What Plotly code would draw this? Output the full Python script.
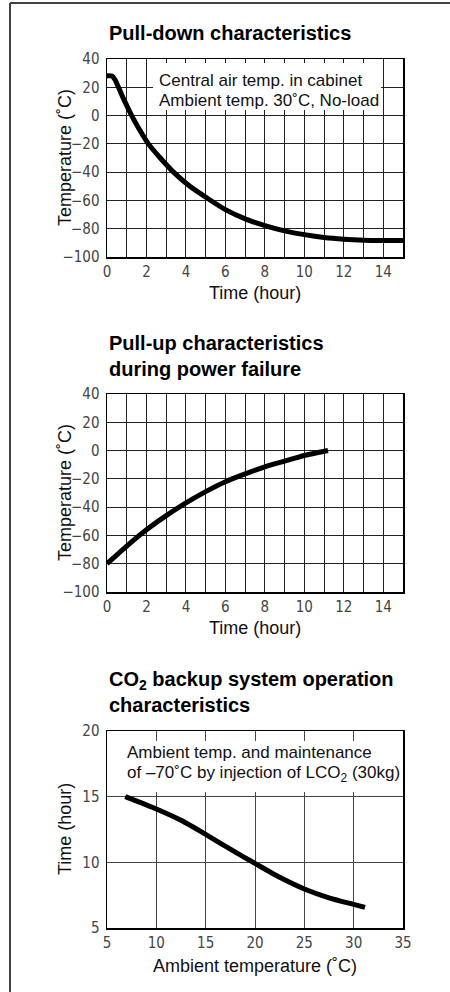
import plotly.graph_objects as go

# ---- data ----
pulldown_time = [0, 0.25, 0.4, 0.58, 0.9, 1.25, 1.65, 2.1, 2.7, 3.37, 4.2, 5.2, 6, 7, 8, 9, 10, 11, 12, 13, 14, 15]
pulldown_temp = [28.2, 28, 25.5, 20, 10, 0, -10, -20, -30, -40, -50, -59.5, -66.5, -73, -77.8, -81.5, -84.2, -86.2, -87.4, -88.1, -88.3, -88.3]

pullup_time = [0, 1, 2, 3, 4, 5, 6, 7, 8, 9, 10, 11.2]
pullup_temp = [-80, -67.5, -56, -46, -37, -29, -22, -16.5, -11.5, -7.5, -3.5, 0]

co2_ambient = [6.85, 10, 12.5, 15, 17.5, 20, 22.5, 25, 27.5, 30, 31.15]
co2_hours = [15, 14.06, 13.2, 12.13, 11.0, 9.92, 8.86, 7.97, 7.3, 6.8, 6.57]

temp_ticks = [-100, -80, -60, -40, -20, 0, 20, 40]
time_ticks = [0, 2, 4, 6, 8, 10, 12, 14]
amb_ticks = [5, 10, 15, 20, 25, 30, 35]
hour_ticks = [5, 10, 15, 20]

titles = ["Pull-down characteristics",
          "Pull-up characteristics<br>during power failure",
          "CO<sub>2</sub> backup system operation<br>characteristics"]
note1 = ["Central air temp. in cabinet", "Ambient temp. 30˚C, No-load"]
note3 = ["Ambient temp. and maintenance", "of –70˚C by injection of LCO<sub>2</sub> (30kg)"]

W, H = 450, 992
def px(x): return x / W
def py(y): return 1 - y / H

TICKFONT = dict(family="DejaVu Sans Condensed, Liberation Sans Narrow, Arial Narrow, Liberation Sans, sans-serif", size=15, color="#444")
TEXTFONT = dict(family="Liberation Sans, Arial, Helvetica, sans-serif", size=17, color="#111")
TITLEFONT = dict(family="Liberation Sans, Arial, Helvetica, sans-serif", size=20, color="#000")

fig = go.Figure()
fig.add_trace(go.Scatter(x=pulldown_time, y=pulldown_temp, mode="lines",
                         line=dict(color="black", width=5, shape="spline", smoothing=0.6),
                         xaxis="x", yaxis="y", showlegend=False, hoverinfo="skip"))
fig.add_trace(go.Scatter(x=pullup_time, y=pullup_temp, mode="lines",
                         line=dict(color="black", width=5, shape="spline", smoothing=0.6),
                         xaxis="x2", yaxis="y2", showlegend=False, hoverinfo="skip"))
fig.add_trace(go.Scatter(x=co2_ambient, y=co2_hours, mode="lines",
                         line=dict(color="black", width=5, shape="spline", smoothing=0.6),
                         xaxis="x3", yaxis="y3", showlegend=False, hoverinfo="skip"))

common_ax = dict(showline=True, linecolor="black", linewidth=1.5, mirror=True,
                 showgrid=True, gridcolor="#222", gridwidth=1, zeroline=False,
                 ticks="", tickfont=TICKFONT, fixedrange=True, automargin=False)

xdom = [px(107), px(403)]
lay = dict(width=W, height=H, margin=dict(l=0, r=0, t=0, b=0, pad=0), autosize=False,
           paper_bgcolor="white", plot_bgcolor="white", showlegend=False)

lay["xaxis"] = dict(common_ax, domain=xdom, range=[0, 15], tickvals=time_ticks, anchor="y")
lay["yaxis"] = dict(common_ax, domain=[py(257), py(59)], range=[-100, 40], tickvals=temp_ticks,
                    anchor="x", ticklabelstandoff=3)
lay["xaxis2"] = dict(common_ax, domain=xdom, range=[0, 15], tickvals=time_ticks, anchor="y2")
lay["yaxis2"] = dict(common_ax, domain=[py(592), py(394)], range=[-100, 40], tickvals=temp_ticks,
                     anchor="x2", ticklabelstandoff=3)
lay["xaxis3"] = dict(common_ax, domain=xdom, range=[5, 35], tickvals=amb_ticks, anchor="y3", gridcolor="#444")
lay["yaxis3"] = dict(common_ax, domain=[py(928), py(731)], range=[5, 20], tickvals=hour_ticks,
                     anchor="x3", gridcolor="#444", ticklabelstandoff=3)
fig.update_layout(**lay)

# minor grid every hour for time axes
for ax in ("xaxis", "xaxis2"):
    fig.layout[ax].minor = dict(dtick=1, tick0=0, showgrid=True, gridcolor="#222", gridwidth=1, ticks="")

shapes = [
    # page frame (left and top)
    dict(type="line", xref="paper", yref="paper", x0=px(10), x1=px(10), y0=py(3), y1=0,
         line=dict(color="#444", width=2)),
    dict(type="line", xref="paper", yref="paper", x0=px(10), x1=1, y0=py(3), y1=py(3),
         line=dict(color="#444", width=2)),
    # white boxes behind notes
    dict(type="rect", xref="paper", yref="paper", x0=px(153), x1=px(381), y0=py(110), y1=py(63),
         fillcolor="white", line=dict(width=0), layer="above"),
    dict(type="rect", xref="paper", yref="paper", x0=px(108.5), x1=px(401.8), y0=py(792), y1=py(741),
         fillcolor="white", line=dict(width=0), layer="above"),
]
fig.update_layout(shapes=shapes)

ann = []
ann.append(dict(text="<b>" + titles[0] + "</b>", x=px(107), y=py(33)))
ann.append(dict(text="<b>" + titles[1] + "</b>", x=px(107), y=py(356)))
ann.append(dict(text="<b>" + titles[2] + "</b>", x=px(107), y=py(692)))
for a in ann:
    a.update(xref="paper", yref="paper", xanchor="left", yanchor="middle", align="left",
             showarrow=False, font=TITLEFONT)

notes = []
notes.append(dict(text=note1[0], x=px(157), y=py(80)))
notes.append(dict(text=note1[1], x=px(157), y=py(100)))
notes.append(dict(text=note3[0], x=px(125), y=py(752)))
notes.append(dict(text=note3[1], x=px(125), y=py(774)))
for a in notes:
    a.update(xref="paper", yref="paper", xanchor="left", yanchor="middle", align="left",
             showarrow=False, font=TEXTFONT)

axtitles = []
for txt, yc in (("Time (hour)", 293), ("Time (hour)", 628), ("Ambient temperature (˚C)", 966)):
    axtitles.append(dict(text=txt, x=px(255), y=py(yc), xanchor="center", yanchor="middle"))
for txt, yc in (("Temperature (˚C)", 158), ("Temperature (˚C)", 493), ("Time (hour)", 829)):
    axtitles.append(dict(text=txt, x=px(65), y=py(yc), xanchor="center", yanchor="middle", textangle=-90))
for a in axtitles:
    a.update(xref="paper", yref="paper", showarrow=False,
             font=dict(family="Liberation Sans, Arial, Helvetica, sans-serif", size=18, color="#111"))

fig.update_layout(annotations=ann + notes + axtitles)

fig.write_html("out.html", config={"displayModeBar": False, "staticPlot": True, "responsive": False},
               post_script="document.body.style.margin='0';document.body.style.padding='0';"
                           "document.documentElement.style.overflow='hidden';")
